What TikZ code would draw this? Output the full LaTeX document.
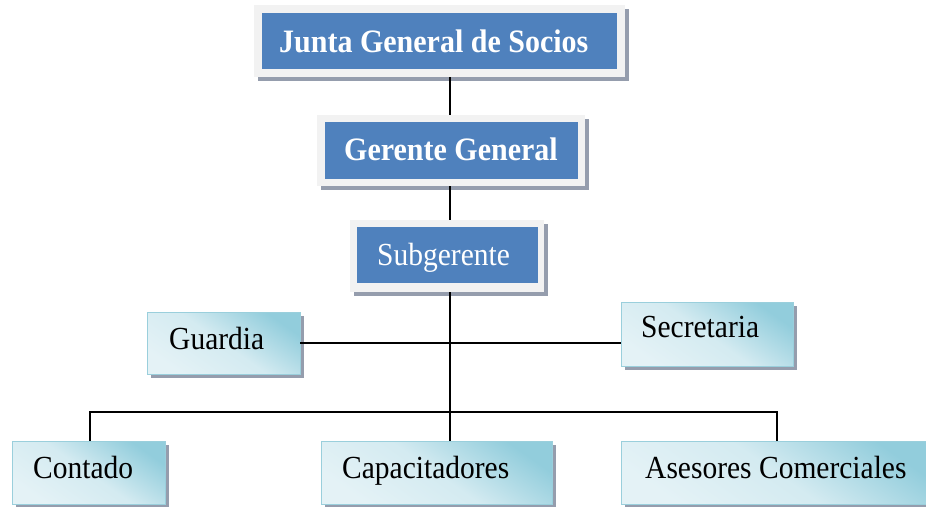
\documentclass[tikz,border=0pt]{standalone}
\usepackage{fontspec}
\setmainfont{Liberation Serif}
\usetikzlibrary{shadows}
\definecolor{offblue}{HTML}{4F81BD}
\definecolor{framegray}{HTML}{F2F2F2}
\definecolor{shadowc}{HTML}{959DAD}
\definecolor{lbdark}{HTML}{92CDDC}
\definecolor{lblight}{HTML}{E4F2F6}
\definecolor{lbborder}{HTML}{9ACFDC}
\tikzset{
  myshadow/.style={drop shadow={shadow xshift=4pt, shadow yshift=-4pt, fill=shadowc, opacity=1}},
  frame/.style={rectangle, inner sep=0pt, fill=framegray, myshadow},
  bluebox/.style={rectangle, inner sep=0pt, fill=offblue},
  lightbox/.style={rectangle, inner sep=0pt, draw=lbborder, line width=0.8pt,
     top color=lbdark, bottom color=lblight, middle color=lblight!80!lbdark, shading angle=-35, myshadow},
  btxt/.style={inner sep=0pt, anchor=base west, text=white, font=\fontsize{30}{32}\selectfont\bfseries},
  wtxt/.style={inner sep=0pt, anchor=base west, text=white, font=\fontsize{29.5}{32}\selectfont},
  ktxt/.style={inner sep=0pt, anchor=base west, text=black, font=\fontsize{29.5}{32}\selectfont},
  conn/.style={line width=1.6pt, black}
}
\begin{document}
\begin{tikzpicture}[x=1pt,y=-1pt]
\useasboundingbox (0,0) rectangle (926,506);
\clip (0,0) rectangle (926,506);
% top blue boxes
\node[frame, minimum width=371pt, minimum height=72pt] (jgs) at (439.5,41) {};
\node[bluebox, minimum width=355pt, minimum height=56pt] (jgsb) at (439.5,41) {};
\node[btxt] (tjgs) at (279,52) {\scalebox{1}[1.09]{Junta General de Socios}};

\node[frame, minimum width=268pt, minimum height=71pt] (gg) at (451,150.5) {};
\node[bluebox, minimum width=253pt, minimum height=57pt] (ggb) at (451.5,150.5) {};
\node[btxt] (tgg) at (344,160) {\scalebox{1}[1.09]{Gerente General}};

\node[frame, minimum width=194pt, minimum height=72pt] (sg) at (447,256) {};
\node[bluebox, minimum width=181pt, minimum height=56pt] (sgb) at (447.5,255) {};
\node[wtxt] (tsg) at (377,265) {\scalebox{1}[1.09]{Subgerente}};

% light boxes
\node[lightbox, minimum width=153pt, minimum height=62pt] (gu) at (223.5,343) {};
\node[ktxt] (tgu) at (169,349) {\scalebox{1}[1.09]{Guardia}};

\node[lightbox, minimum width=172pt, minimum height=64pt] (se) at (707,334) {};
\node[ktxt] (tse) at (641,337) {\scalebox{1}[1.09]{Secretaria}};

\node[lightbox, minimum width=153pt, minimum height=63pt] (co) at (88.5,472.5) {};
\node[ktxt] (tco) at (33,478) {\scalebox{1}[1.09]{Contado}};

\node[lightbox, minimum width=231pt, minimum height=63pt] (ca) at (436.5,472.5) {};
\node[ktxt] (tca) at (342,478) {\scalebox{1}[1.09]{Capacitadores}};

\node[lightbox, minimum width=312pt, minimum height=63pt] (as) at (777,472.5) {};
\node[ktxt] (tas) at (645,478) {\scalebox{1}[1.09]{Asesores Comerciales}};

% connectors
\coordinate (trunk) at (450,0);
\coordinate (busL) at (90,412);
\coordinate (busR) at (777,412);
\draw[conn] (jgs.south -| trunk) -- (gg.north -| trunk);
\draw[conn] (gg.south -| trunk) -- (sg.north -| trunk);
\draw[conn] (sg.south -| trunk) -- (ca.north -| trunk);
\draw[conn] (gu.east) -- (gu.east -| se.west);
\draw[conn] (co.north -| busL) -- (busL) -- (busR) -- (as.north -| busR);
\end{tikzpicture}
\end{document}
